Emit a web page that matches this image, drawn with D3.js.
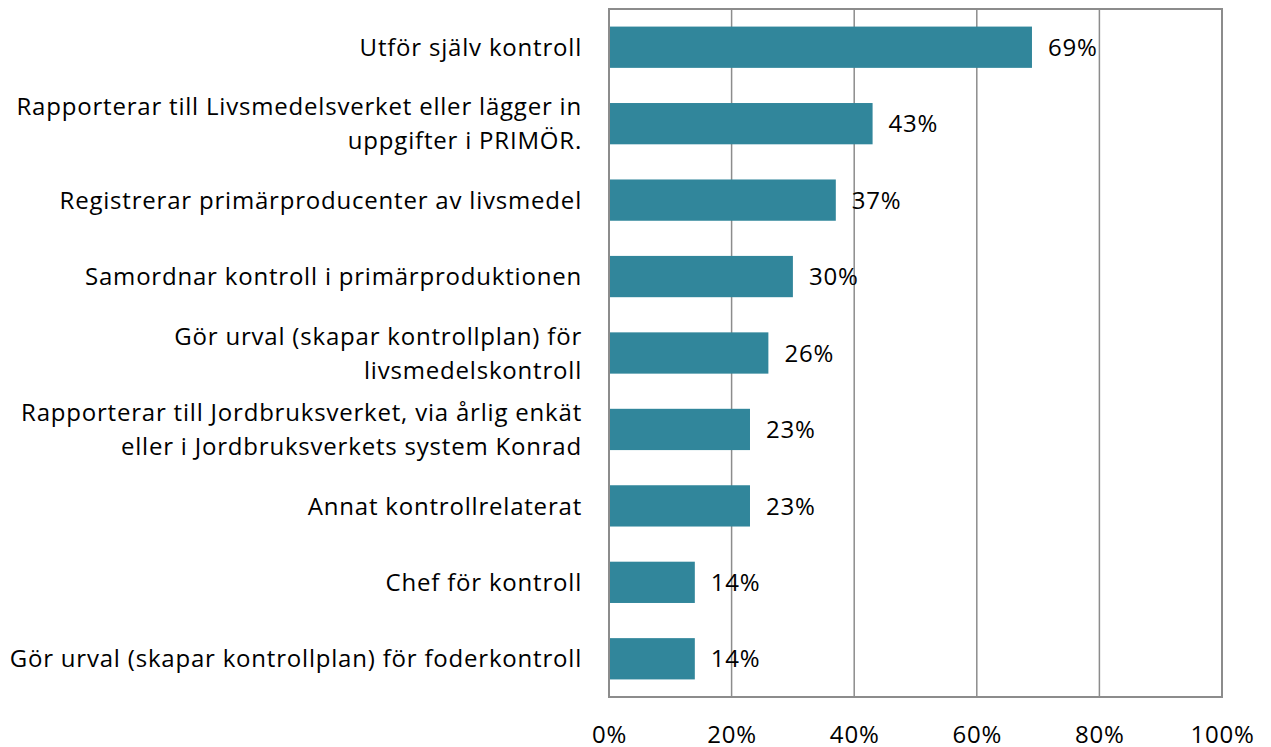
<!DOCTYPE html>
<html lang="sv">
  <head>
    <meta charset="UTF-8" />
    <title>Kontrolluppgifter</title>
    <script src="https://d3js.org/d3.v7.min.js"></script>
    <style>
      body { margin: 0; background: #fff; }
      text { font-family: "Open Sans", Lato, sans-serif; fill: #000; letter-spacing: 0.8px; }
      .bar { fill: #31869b; }
    </style>
  </head>
  <body>
    <svg width="1271" height="747"></svg>
    <script>
      // kategorier (radbrytningar som i originalet)
      var categories = [
        ["Utför själv kontroll"],
        ["Rapporterar till Livsmedelsverket eller lägger in", "uppgifter i PRIMÖR."],
        ["Registrerar primärproducenter av livsmedel"],
        ["Samordnar kontroll i primärproduktionen"],
        ["Gör urval (skapar kontrollplan) för", "livsmedelskontroll"],
        ["Rapporterar till Jordbruksverket, via årlig enkät", "eller i Jordbruksverkets system Konrad"],
        ["Annat kontrollrelaterat"],
        ["Chef för kontroll"],
        ["Gör urval (skapar kontrollplan) för foderkontroll"]
      ];
      var values = [69, 43, 37, 30, 26, 23, 23, 14, 14];
      var ticks = [0, 20, 40, 60, 80, 100];

      var svg = d3.select("svg");
      var plotLeft = 609, plotRight = 1222, plotTop = 9, plotBottom = 697;
      var fs = 24;

      var x = d3.scaleLinear().domain([0, 100]).range([plotLeft, plotRight]);
      var y = d3.scaleBand()
        .domain(d3.range(categories.length))
        .range([plotTop, plotBottom])
        .paddingInner(0.46)
        .paddingOuter(0.23);

      // rutnät
      svg.append("g")
        .selectAll("line")
        .data(ticks.slice(1, -1))
        .join("line")
        .attr("x1", function (d) { return x(d); })
        .attr("x2", function (d) { return x(d); })
        .attr("y1", plotTop)
        .attr("y2", plotBottom)
        .attr("stroke", "#8c8c8c")
        .attr("stroke-width", 1.5);

      svg.selectAll(".bar")
        .data(values)
        .join("rect")
        .attr("class", "bar")
        .attr("x", x(0))
        .attr("y", function (d, i) { return y(i); })
        .attr("width", function (d) { return x(d) - x(0); })
        .attr("height", y.bandwidth());

      // ram
      svg.append("rect")
        .attr("x", plotLeft)
        .attr("y", plotTop)
        .attr("width", plotRight - plotLeft)
        .attr("height", plotBottom - plotTop)
        .attr("fill", "none")
        .attr("stroke", "#8c8c8c")
        .attr("stroke-width", 2);

      // värdeetiketter
      svg.selectAll(".val")
        .data(values)
        .join("text")
        .attr("class", "val")
        .attr("x", function (d) { return x(d) + 16; })
        .attr("y", function (d, i) { return y(i) + y.bandwidth() / 2; })
        .attr("dy", "0.36em")
        .attr("font-size", fs)
        .text(function (d) { return d + "%"; });

      // kategorietiketter
      var lab = svg.selectAll(".cat")
        .data(categories)
        .join("text")
        .attr("class", "cat")
        .attr("text-anchor", "end")
        .attr("font-size", fs)
        .attr("y", function (d, i) { return y(i) + y.bandwidth() / 2; });

      lab.selectAll("tspan")
        .data(function (d) {
          return d.map(function (t, j) { return { t: t, j: j, n: d.length }; });
        })
        .join("tspan")
        .attr("x", 582)
        .attr("dy", function (d) {
          if (d.j == 0) return (0.36 - (d.n - 1) * 0.71) + "em";
          return "1.42em";
        })
        .text(function (d) { return d.t; });

      // x-axel
      var xAxis = svg.append("g")
        .attr("transform", "translate(0," + 734 + ")")
        .call(d3.axisBottom(x).tickValues(ticks).tickSize(0).tickFormat(function (d) { return d + "%"; }));
      xAxis.select(".domain").remove();
      xAxis.selectAll("text")
        .attr("font-size", fs)
        .attr("font-family", "'Open Sans', Lato, sans-serif")
        .attr("y", 0)
        .attr("dy", "0.36em");
    </script>
  </body>
</html>
